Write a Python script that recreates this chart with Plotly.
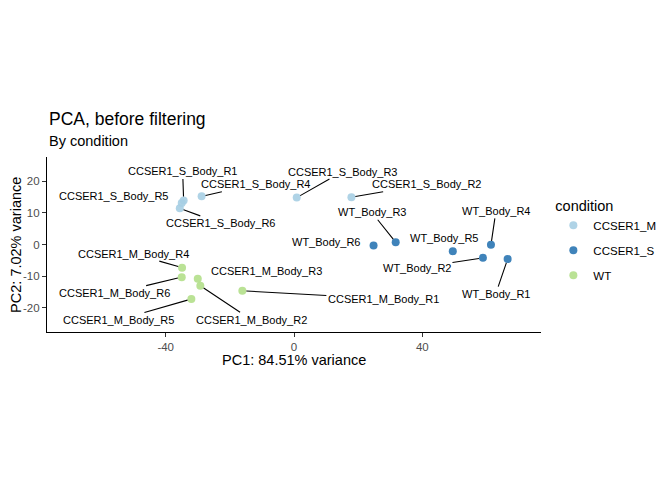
import plotly.graph_objects as go

# PCA coordinates
groups = ["CCSER1_M", "CCSER1_S", "WT"]

s_names = ["CCSER1_S_Body_R1", "CCSER1_S_Body_R5", "CCSER1_S_Body_R6",
           "CCSER1_S_Body_R4", "CCSER1_S_Body_R3", "CCSER1_S_Body_R2"]
s_pc1 = [-34.4, -35.0, -35.6, -28.8, 0.85, 17.9]
s_pc2 = [13.9, 13.1, 11.4, 15.2, 14.8, 14.9]

wt_names = ["WT_Body_R3", "WT_Body_R6", "WT_Body_R5",
            "WT_Body_R4", "WT_Body_R2", "WT_Body_R1"]
wt_pc1 = [31.7, 24.8, 49.5, 61.4, 58.9, 66.6]
wt_pc2 = [0.7, -0.3, -2.1, -0.1, -4.2, -4.6]

m_names = ["CCSER1_M_Body_R4", "CCSER1_M_Body_R6", "CCSER1_M_Body_R3",
           "CCSER1_M_Body_R2", "CCSER1_M_Body_R5", "CCSER1_M_Body_R1"]
m_pc1 = [-34.9, -35.0, -30.0, -29.2, -32.0, -16.1]
m_pc2 = [-7.3, -10.3, -10.8, -13.0, -17.2, -14.6]

x_ticks = [-40, 0, 40]
x_tick_labels = ["-40", "0", "40"]
y_ticks = [-20, -10, 0, 10, 20]
y_tick_labels = ["-20", "-10", "0", "10", "20"]

# label placement (pixel offsets from the point, repel-style) and whether a segment shows
label_offsets = {
    "CCSER1_S_Body_R1": (-1, -29, True),
    "CCSER1_S_Body_R5": (-68, -7, False),
    "CCSER1_S_Body_R6": (41, 15, True),
    "CCSER1_S_Body_R4": (54, -12, True),
    "CCSER1_S_Body_R3": (46, -26, True),
    "CCSER1_S_Body_R2": (75, -13, True),
    "WT_Body_R3": (-24, -30, True),
    "WT_Body_R6": (-48, -3, False),
    "WT_Body_R5": (-9, -13, False),
    "WT_Body_R4": (5, -34, True),
    "WT_Body_R2": (-66, 10, True),
    "WT_Body_R1": (-12, 35, True),
    "CCSER1_M_Body_R4": (-49, -14, True),
    "CCSER1_M_Body_R6": (-67, 16, True),
    "CCSER1_M_Body_R3": (69, -8, False),
    "CCSER1_M_Body_R2": (51, 34, True),
    "CCSER1_M_Body_R5": (-73, 21, True),
    "CCSER1_M_Body_R1": (141, 8, True),
}

colors = {"CCSER1_M": "#A6CEE3", "CCSER1_S": "#2A75B3", "WT": "#B2DF8A"}
font = "Liberation Sans, Arial, sans-serif"

series = [
    (groups[0], s_pc1, s_pc2, s_names),
    (groups[1], wt_pc1, wt_pc2, wt_names),
    (groups[2], m_pc1, m_pc2, m_names),
]

fig = go.Figure()
annotations = []
for grp, xs, ys, names in series:
    fig.add_trace(go.Scatter(
        x=xs, y=ys, mode="markers", name=grp, text=names, legendgroup=grp,
        marker=dict(size=8, color=colors[grp], opacity=0.9),
        hovertemplate="%{text}<extra></extra>",
    ))
    for x, y, n in zip(xs, ys, names):
        ax, ay, seg = label_offsets[n]
        annotations.append(dict(
            x=x, y=y, xref="x", yref="y", text=n, showarrow=True,
            ax=ax, ay=ay, arrowhead=0, arrowwidth=1.1, standoff=4,
            arrowcolor="black" if seg else "rgba(0,0,0,0)",
            font=dict(family=font, size=11, color="black"),
        ))

annotations.append(dict(
    text="PCA, before filtering", xref="paper", yref="paper", x=0, y=1.217,
    xanchor="left", yanchor="middle", showarrow=False,
    font=dict(family=font, size=17.5, color="black"),
))
annotations.append(dict(
    text="By condition", xref="paper", yref="paper", x=0, y=1.091,
    xanchor="left", yanchor="middle", showarrow=False,
    font=dict(family=font, size=14.5, color="black"),
))
# axis titles placed as text so they sit where the reference has them
annotations.append(dict(
    text="PC1: 84.51% variance", xref="paper", yref="paper", x=0.5, y=-0.16,
    xanchor="center", yanchor="middle", showarrow=False,
    font=dict(family=font, size=14.5, color="black"),
))
annotations.append(dict(
    text="PC2: 7.02% variance", xref="paper", yref="paper", x=-0.064, y=0.5,
    xanchor="center", yanchor="middle", showarrow=False, textangle=-90,
    font=dict(family=font, size=14.5, color="black"),
))

axis_common = dict(
    showgrid=False, zeroline=False, showline=True, linecolor="black",
    linewidth=1.2, ticks="outside", ticklen=4, tickcolor="#333333",
    tickfont=dict(family=font, size=11.5, color="#4d4d4d"),
    automargin=False,
)

# page body adds ~8px offset, so margins are pulled in to compensate
fig.update_layout(
    width=672, height=480,
    margin=dict(l=39, r=139, t=149, b=156),
    plot_bgcolor="white", paper_bgcolor="white",
    font=dict(family=font, color="black"),
    annotations=annotations,
    xaxis=dict(range=[-77, 77], tickvals=x_ticks, ticktext=x_tick_labels,
               **axis_common),
    yaxis=dict(range=[-27.6, 27.6], tickvals=y_ticks, ticktext=y_tick_labels,
               **axis_common),
    legend=dict(
        x=1.025, y=0.8, xanchor="left", yanchor="top",
        traceorder="grouped", tracegroupgap=6,
        title=dict(text="condition  ", font=dict(family=font, size=14.5)),
        font=dict(family=font, size=11.5, color="black"),
        bgcolor="rgba(0,0,0,0)",
    ),
)

fig.write_html("out.html")
